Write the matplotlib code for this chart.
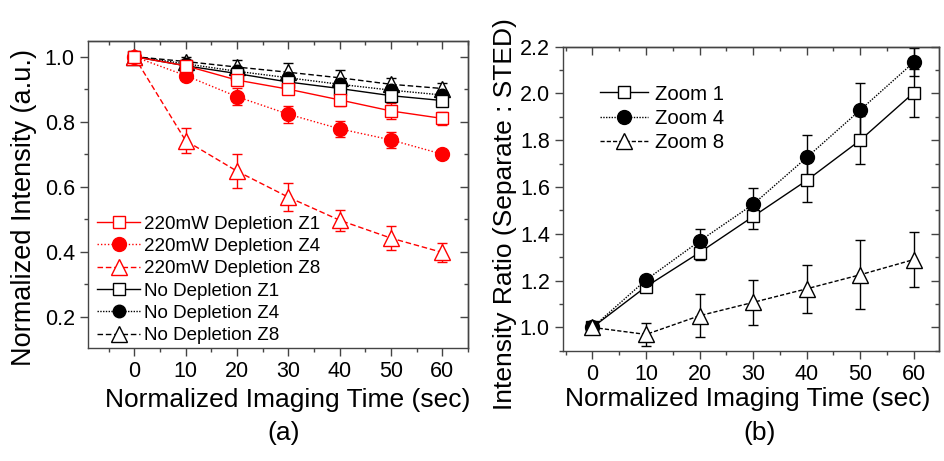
import numpy as np
import matplotlib
matplotlib.use("Agg")
import matplotlib.pyplot as plt
from matplotlib.ticker import MultipleLocator
from matplotlib.lines import Line2D

plt.rcParams['font.family'] = ['Liberation Sans', 'DejaVu Sans']

t = [0, 10, 20, 30, 40, 50, 60]

# panel (a): normalized intensity
red_z1 = [1.0, 0.972, 0.928, 0.900, 0.867, 0.833, 0.810]
red_z1_err = [0.0, 0.010, 0.015, 0.015, 0.018, 0.025, 0.020]
red_z4 = [1.0, 0.942, 0.877, 0.823, 0.778, 0.744, 0.700]
red_z4_err = [0.0, 0.010, 0.027, 0.026, 0.025, 0.025, 0.005]
red_z8 = [1.0, 0.742, 0.648, 0.568, 0.497, 0.442, 0.398]
red_z8_err = [0.0, 0.038, 0.052, 0.042, 0.033, 0.038, 0.030]
blk_z1 = [1.0, 0.972, 0.948, 0.922, 0.902, 0.880, 0.865]
blk_z1_err = [0.0, 0.012, 0.015, 0.015, 0.015, 0.015, 0.015]
blk_z4 = [1.0, 0.978, 0.955, 0.935, 0.915, 0.897, 0.882]
blk_z4_err = [0.0, 0.010, 0.012, 0.012, 0.012, 0.012, 0.012]
blk_z8 = [1.0, 0.985, 0.968, 0.952, 0.935, 0.915, 0.902]
blk_z8_err = [0.0, 0.015, 0.022, 0.028, 0.025, 0.020, 0.018]

labels_a = ["220mW Depletion Z1", "220mW Depletion Z4", "220mW Depletion Z8",
            "No Depletion Z1", "No Depletion Z4", "No Depletion Z8"]

# panel (b): intensity ratio
zoom1 = [1.0, 1.174, 1.320, 1.474, 1.628, 1.800, 2.003]
zoom1_err = [0.0, 0.015, 0.030, 0.053, 0.093, 0.103, 0.103]
zoom4 = [1.0, 1.203, 1.369, 1.526, 1.726, 1.929, 2.133]
zoom4_err = [0.0, 0.015, 0.050, 0.070, 0.095, 0.117, 0.060]
zoom8 = [1.0, 0.970, 1.050, 1.107, 1.165, 1.225, 1.290]
zoom8_err = [0.0, 0.050, 0.091, 0.096, 0.103, 0.147, 0.119]
labels_b = ["Zoom 1", "Zoom 4", "Zoom 8"]

fig = plt.figure(figsize=(9.44, 4.61), dpi=100)
ax1 = fig.add_axes([0.0932, 0.245, 0.4026, 0.666])
ax2 = fig.add_axes([0.5964, 0.239, 0.3983, 0.660])


def series(ax, y, err, color, ls, marker, filled, ms):
    ax.errorbar(t, y, yerr=err, color=color, ls=ls, lw=1.0, marker=marker,
                ms=ms, mfc=color if filled else 'white', mec=color, mew=1.0,
                capsize=3.5, elinewidth=1.0, capthick=1.0)
    return Line2D([], [], color=color, ls=ls, lw=1.0, marker=marker, ms=ms,
                  mfc=color if filled else 'white', mec=color, mew=1.0)


ha = [None] * 6
ha[5] = series(ax1, blk_z8, blk_z8_err, 'black', (0, (4, 2)), '^', False, 11)
ha[4] = series(ax1, blk_z4, blk_z4_err, 'black', (0, (1, 1)), 'o', True, 9)
ha[3] = series(ax1, blk_z1, blk_z1_err, 'black', '-', 's', False, 8.5)
ha[2] = series(ax1, red_z8, red_z8_err, 'red', (0, (4, 2)), '^', False, 11)
ha[1] = series(ax1, red_z4, red_z4_err, 'red', (0, (1, 1.5)), 'o', True, 10)
ha[0] = series(ax1, red_z1, red_z1_err, 'red', '-', 's', False, 8.5)

ax1.legend(ha, labels_a, loc='upper left', bbox_to_anchor=(0.024, 0.432),
           frameon=False, fontsize=13.5, handlelength=2.3,
           handletextpad=0.2, labelspacing=0.28, borderpad=0.0,
           borderaxespad=0.0)

ax1.set_xlim(-9, 65)
ax1.set_ylim(0.104, 1.048)
ax1.set_xlabel("Normalized Imaging Time (sec)", fontsize=19)
ax1.xaxis.set_label_coords(0.525, -0.13)
ax1.set_ylabel("Normalized Intensity (a.u.)", fontsize=19.5)
ax1.yaxis.set_label_coords(-0.134, 0.459)

hb = [series(ax2, zoom1, zoom1_err, 'black', '-', 's', False, 8.5),
      series(ax2, zoom4, zoom4_err, 'black', (0, (1, 1)), 'o', True, 10),
      series(ax2, zoom8, zoom8_err, 'black', (0, (3, 1.5)), '^', False, 11)]
ax2.legend(hb, labels_b, loc='upper left', bbox_to_anchor=(0.098, 0.875),
           frameon=False, fontsize=14.7, handlelength=2.35,
           handletextpad=0.35, labelspacing=0.25, borderpad=0.0,
           borderaxespad=0.0)

ax2.set_xlim(-5.5, 64.7)
ax2.set_ylim(0.9, 2.2)
ax2.set_xlabel("Normalized Imaging Time (sec)", fontsize=19)
ax2.xaxis.set_label_coords(0.49, -0.118)
ax2.set_ylabel("Intensity Ratio (Separate : STED)", fontsize=19)
ax2.yaxis.set_label_coords(-0.122, 0.451)

grey = '#444444'
for ax in (ax1, ax2):
    ax.xaxis.set_major_locator(MultipleLocator(10))
    ax.xaxis.set_minor_locator(MultipleLocator(5))
    ax.yaxis.set_major_locator(MultipleLocator(0.2))
    ax.yaxis.set_minor_locator(MultipleLocator(0.1))
    ax.tick_params(which='both', direction='out', labelsize=15.5, color=grey)
    ax.tick_params(which='major', length=6, width=1)
    ax.tick_params(which='minor', length=3, width=1)
    for sp in ax.spines.values():
        sp.set_linewidth(1.0)
        sp.set_color(grey)

    # mirrored ticks pointing inward on top and right
    top = ax.secondary_xaxis('top')
    top.xaxis.set_major_locator(MultipleLocator(10))
    top.xaxis.set_minor_locator(MultipleLocator(5))
    top.xaxis.set_major_formatter(plt.NullFormatter())
    top.tick_params(axis='x', which='both', direction='in', color=grey)
    top.tick_params(axis='x', which='major', length=6, width=1)
    top.tick_params(axis='x', which='minor', length=3, width=1)

    right = ax.secondary_yaxis('right')
    right.yaxis.set_major_locator(MultipleLocator(0.2))
    right.yaxis.set_minor_locator(MultipleLocator(0.1))
    right.yaxis.set_major_formatter(plt.NullFormatter())
    right.tick_params(axis='y', which='both', direction='in', color=grey)
    right.tick_params(axis='y', which='major', length=6, width=1)
    right.tick_params(axis='y', which='minor', length=3, width=1)
    for a in (top, right):
        for sp in a.spines.values():
            sp.set_linewidth(1.0)
            sp.set_color(grey)

fig.text(0.300, 0.06, "(a)", fontsize=19, ha='center', va='center')
fig.text(0.805, 0.06, "(b)", fontsize=19, ha='center', va='center')

fig.savefig("out.png", dpi=100)
